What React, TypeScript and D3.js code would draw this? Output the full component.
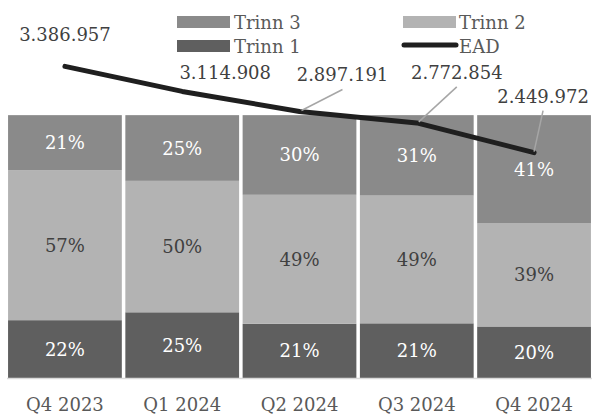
import React from "react";
import * as d3 from "d3";

const categories = ["Q4 2023", "Q1 2024", "Q2 2024", "Q3 2024", "Q4 2024"];
const trinn1 = [0.22, 0.25, 0.206, 0.208, 0.196];
const trinn2 = [0.57, 0.5, 0.491, 0.486, 0.392];
const trinn3 = [0.21, 0.25, 0.303, 0.306, 0.412];
const ead = [3386957, 3114908, 2897191, 2772854, 2449972];
// label offsets for EAD data labels (layout only)
const eadLabelOffset: [number, number, boolean][] = [
  [0, -25, false],
  [43, -12, false],
  [43, -30, true],
  [40, -44, true],
  [9, -50, true],
];

const W = 593;
const H = 414;
const FONT = "'DejaVu Serif', serif";

const C3 = "#8a8a8a";
const C2 = "#b3b3b3";
const C1 = "#5f5f5f";

export default function App() {
  const x = d3
    .scaleBand<string>()
    .domain(categories)
    .range([6.3, 592.7])
    .paddingInner(0.03)
    .paddingOuter(0.015);
  const y = d3.scaleLinear().domain([0, 1.4]).range([378, 10]);
  const y2 = d3.scaleLinear().domain([0, 4000000]).range([378, 10]);

  const rows = categories.map((c, i) => ({ c, t1: trinn1[i], t2: trinn2[i], t3: trinn3[i] }));
  const stack = d3.stack<any>().keys(["t1", "t2", "t3"])(rows);
  const colors = [C1, C2, C3];
  const textColors = ["#ffffff", "#404040", "#ffffff"];

  const line = d3
    .line<number>()
    .x((_, i) => (x(categories[i]) as number) + x.bandwidth() / 2)
    .y((v) => y2(v));

  const fmt = (v: number) => d3.format(",")(v).replace(/,/g, ".");
  const pct = (v: number) => Math.round(v * 100) + "%";

  return (
    <svg
      width={W}
      height={H}
      style={{ position: "absolute", left: 0, top: 0, background: "#fff" }}
      fontFamily={FONT}
    >
      {stack.map((layer, li) =>
        layer.map((d, i) => {
          const x0 = x(categories[i]) as number;
          const top = y(d[1]);
          const bot = y(d[0]);
          return (
            <g key={li + "-" + i}>
              <rect x={x0} y={top} width={x.bandwidth()} height={bot - top} fill={colors[li]} />
              <text
                x={x0 + x.bandwidth() / 2}
                y={(top + bot) / 2}
                textAnchor="middle"
                dominantBaseline="central"
                fontSize={18}
                fill={textColors[li]}
              >
                {pct(d[1] - d[0])}
              </text>
            </g>
          );
        })
      )}
      <line x1={7} x2={592} y1={378.5} y2={378.5} stroke="#d9d9d9" strokeWidth={1.5} />
      {categories.map((c) => (
        <text
          key={c}
          x={(x(c) as number) + x.bandwidth() / 2}
          y={411}
          textAnchor="middle"
          fontSize={18}
          fill="#595959"
        >
          {c}
        </text>
      ))}
      <path
        d={line(ead) || ""}
        fill="none"
        stroke="#1f1f1f"
        strokeWidth={5}
        strokeLinecap="round"
        strokeLinejoin="round"
      />
      {ead.map((v, i) => {
        const px = (x(categories[i]) as number) + x.bandwidth() / 2;
        const py = y2(v);
        const [dx, dy, leader] = eadLabelOffset[i];
        const lx = px + dx;
        const ly = py + dy;
        return (
          <g key={"e" + i}>
            {leader && (
              <line
                x1={lx}
                y1={ly + 8}
                x2={px + (dx > 20 ? 2 : 0)}
                y2={py - 1}
                stroke="#a6a6a6"
                strokeWidth={1.5}
              />
            )}
            <text x={lx} y={ly} textAnchor="middle" fontSize={18} fill="#404040">
              {fmt(v)}
            </text>
          </g>
        );
      })}
      {/* legend */}
      <g fontSize={18} fill="#595959">
        <rect x={177} y={16} width={53} height={12} fill={C3} />
        <text x={234} y={29}>Trinn 3</text>
        <rect x={177} y={40} width={53} height={12} fill={C1} />
        <text x={234} y={53}>Trinn 1</text>
        <rect x={403} y={16} width={53} height={12} fill={C2} />
        <text x={459} y={29}>Trinn 2</text>
        <line x1={404} x2={456} y1={45} y2={45} stroke="#1f1f1f" strokeWidth={5} strokeLinecap="round" />
        <text x={459} y={53}>EAD</text>
      </g>
    </svg>
  );
}
